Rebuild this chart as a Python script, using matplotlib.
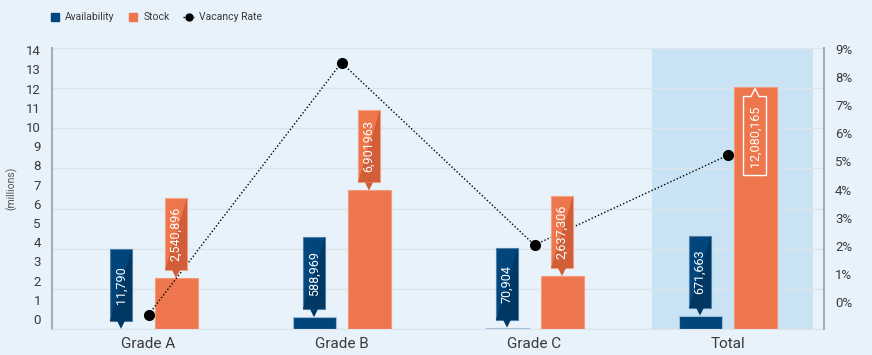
import numpy as np
import matplotlib
matplotlib.use("Agg")
import matplotlib.pyplot as plt
from matplotlib.patches import Polygon, Rectangle
from matplotlib.lines import Line2D

plt.rcParams['font.family'] = ['Roboto', 'DejaVu Sans']

# ---------------- data ----------------
categories = ["Grade A", "Grade B", "Grade C", "Total"]
availability = [11790, 588969, 70904, 671663]
stock = [2540896, 6901963, 2637306, 12080165]
vacancy_rate = [0.46, 8.53, 2.69, 5.56]          # percent
avail_labels = ["11,790", "588,969", "70,904", "671,663"]
stock_labels = ["2,540,896", "6,901963", "2,637,306", "12,080,165"]
left_tick_labels = [str(i) for i in range(15)]
right_tick_labels = [f"{i}%" for i in range(10)]

# ---------------- style ----------------
BG = "#E8F2FB"
HILITE = "#C9E3F5"
BLUE = "#00457C"
BLUE_D = "#003763"
BLUE_E = "#4F7EA6"
ORANGE = "#EE764C"
ORANGE_D = "#D05E38"
ORANGE_E = "#F4A083"
GRID = "#DCE3EA"
AXC = "#A8ADB2"
TXT = "#3A3A3A"

W, H = 872, 355
fig = plt.figure(figsize=(W / 100, H / 100), dpi=100, facecolor=BG)
L, R, T, B = 52, 824, 48, 329
ax = fig.add_axes([L / W, (H - B) / H, (R - L) / W, (B - T) / H])
ax.set_facecolor(BG)
ax.set_xlim(-0.5, 3.5)
ax.set_ylim(0, 14)

pxx = (R - L) / 4.0      # pixels per category unit
pxy = (B - T) / 14.0     # pixels per million

x = np.arange(len(categories))
off = 27.5 / pxx
bw = 43 / pxx

# highlight behind "Total"
ax.add_patch(Rectangle((3 + (652 - 727.5) / pxx, 0), 161 / pxx, 14,
                       facecolor=HILITE, edgecolor="none", zorder=0))

av_m = np.array(availability) / 1e6
st_m = np.array(stock) / 1e6
ax.bar(x - off, av_m, bw, color=BLUE, edgecolor="#9FBBD6", linewidth=0.8, zorder=2)
ax.bar(x + off, st_m, bw, color=ORANGE, edgecolor="#F29A7B", linewidth=0.8, zorder=2)

# gridlines every 2 million
ax.set_yticks(np.arange(0, 15, 2), minor=True)
ax.grid(which="minor", axis="y", color=GRID, linewidth=1, zorder=1)
ax.tick_params(which="minor", length=0)
# reference spreads its tick labels evenly over a slightly shorter span
ax.set_yticks([(10 + 19.2 * i) / pxy for i in range(15)])
ax.set_yticklabels(left_tick_labels)
ax.tick_params(axis="y", length=0, pad=8, labelsize=9.5, labelcolor=TXT)
ax.set_xticks(x)
ax.set_xticklabels(categories)
ax.tick_params(axis="x", length=0, pad=6, labelsize=11, labelcolor=TXT)
for s in ["top", "right"]:
    ax.spines[s].set_visible(False)
ax.spines["bottom"].set_color(GRID)
ax.spines["left"].set_color(AXC)
ax.spines["left"].set_linewidth(1.5)
ax.set_ylabel("(millions)", fontsize=7.5, color="#555555", labelpad=6)

# ---- vacancy rate on the secondary axis ----
ax2 = ax.twinx()
ax2.set_ylim(0, 9)
ax2.plot(x, vacancy_rate, linestyle=(0, (1, 1.5)), color="black", linewidth=1,
         marker="o", markersize=7, zorder=2)
pxy2 = (B - T) / 9.0
ax2.set_yticks([(27 + 28.1 * i) / pxy2 for i in range(10)])
ax2.set_yticklabels(right_tick_labels)
ax2.tick_params(axis="y", length=0, pad=8, labelsize=9.5, labelcolor=TXT)
for s in ["top", "left", "bottom"]:
    ax2.spines[s].set_visible(False)
ax2.spines["right"].set_color(AXC)
ax2.spines["right"].set_linewidth(1.5)

# ---- callouts (drawn above the line, in primary-axis data units) ----
tr = ax.transData

def callout(xc, top, text, base, dark, edge):
    w = 22 / pxx
    tri = 4 / pxx
    ybot = top + 8 / pxy
    ytop = ybot + 72 / pxy
    x0, x1 = xc - w / 2, xc + w / 2
    ax2.add_patch(Polygon([(x0, ybot), (x1, ybot), (x1, ytop), (x0, ytop)], transform=tr,
                          closed=True, facecolor=base, edgecolor=edge, linewidth=0.8, zorder=3))
    ax2.add_patch(Polygon([(x0, ybot), (x1, ybot), (x1, ytop)], transform=tr,
                          closed=True, facecolor=dark, edgecolor="none", zorder=3))
    ax2.add_patch(Polygon([(xc - tri, ybot), (xc + tri, ybot), (xc, top)], transform=tr,
                          closed=True, facecolor=dark, edgecolor="none", zorder=3))
    ax2.text(xc, (ybot + ytop) / 2, text, rotation=90, ha="center", va="center",
             color="white", fontsize=9, zorder=4, transform=tr)

for i in range(3):
    callout(x[i] - off, av_m[i], avail_labels[i], BLUE, BLUE_D, BLUE_E)
    callout(x[i] + off, st_m[i], stock_labels[i], ORANGE, ORANGE_D, ORANGE_E)
callout(x[3] - off, av_m[3], avail_labels[3], BLUE, BLUE_D, BLUE_E)

# Total stock: outlined label inside the bar
xc = x[3] + off
w = 23 / pxx
tri = 4 / pxx
ytip = st_m[3] - 2 / pxy
ytop = st_m[3] - 10 / pxy
ybot = ytop - 79 / pxy
ax2.add_patch(Polygon([(xc - w / 2, ytop), (xc - tri, ytop), (xc, ytip), (xc + tri, ytop),
                       (xc + w / 2, ytop), (xc + w / 2, ybot), (xc - w / 2, ybot)],
                      transform=tr, closed=True, facecolor="none", edgecolor="white",
                      linewidth=1, zorder=3))
ax2.text(xc, (ytop + ybot) / 2, stock_labels[3], rotation=90, ha="center", va="center",
         color="white", fontsize=9, zorder=4, transform=tr)

# ---- legend ----
handles = [
    Line2D([], [], linestyle="none", marker="s", markersize=6, color=BLUE),
    Line2D([], [], linestyle="none", marker="s", markersize=6, color=ORANGE),
    Line2D([], [], linestyle=(0, (1, 1.5)), color="black", linewidth=1, marker="o", markersize=5),
]
fig.legend(handles, ["Availability", "Stock", "Vacancy Rate"], loc="upper left",
           bbox_to_anchor=(40 / W, 0.992), ncol=3, frameon=False, fontsize=7.5,
           handlelength=1.0, handletextpad=0.5, columnspacing=1.3, labelcolor=TXT)

fig.savefig("out.png", dpi=100, facecolor=BG)
